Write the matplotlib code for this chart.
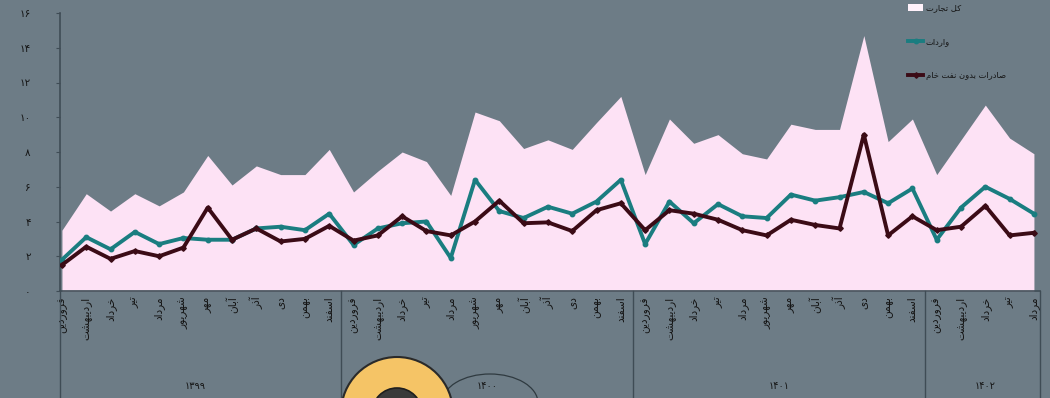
import numpy as np
import matplotlib
matplotlib.use("Agg")
import matplotlib.pyplot as plt
from matplotlib.lines import Line2D
from matplotlib.patches import Patch, Circle, Ellipse
from matplotlib.transforms import blended_transform_factory

plt.rcParams['font.family'] = ['DejaVu Sans']

# ---- data (billion USD, monthly) ----
months = ["فروردین", "اردیبهشت", "خرداد", "تیر", "مرداد", "شهریور",
          "مهر", "آبان", "آذر", "دی", "بهمن", "اسفند"]
years = ["۱۳۹۹", "۱۴۰۰", "۱۴۰۱", "۱۴۰۲"]
months_per_year = [12, 12, 12, 5]

total_trade = [3.5, 5.6, 4.6, 5.6, 4.9, 5.7, 7.8, 6.1, 7.2, 6.7, 6.7, 8.15,
               5.7, 6.9, 8.0, 7.45, 5.5, 10.3, 9.8, 8.2, 8.7, 8.15, 9.7, 11.2,
               6.7, 9.9, 8.5, 9.0, 7.9, 7.6, 9.6, 9.3, 9.3, 14.7, 8.6, 9.9,
               6.7, 8.7, 10.7, 8.8, 7.9]
imports = [1.8, 3.1, 2.4, 3.4, 2.7, 3.05, 2.95, 2.95, 3.6, 3.7, 3.5, 4.45,
           2.65, 3.6, 3.9, 4.0, 1.9, 6.4, 4.6, 4.2, 4.85, 4.45, 5.15, 6.4,
           2.7, 5.15, 3.9, 5.0, 4.3, 4.2, 5.55, 5.2, 5.4, 5.7, 5.05, 5.9,
           2.95, 4.8, 6.0, 5.3, 4.45]
exports_non_oil = [1.5, 2.55, 1.85, 2.3, 2.0, 2.5, 4.8, 2.95, 3.6, 2.85, 3.0, 3.75,
                   2.9, 3.2, 4.3, 3.45, 3.2, 4.0, 5.2, 3.9, 3.95, 3.45, 4.65, 5.05,
                   3.5, 4.65, 4.45, 4.1, 3.5, 3.2, 4.1, 3.8, 3.6, 9.0, 3.2, 4.3,
                   3.5, 3.7, 4.9, 3.2, 3.35]
y_ticks = [0, 2, 4, 6, 8, 10, 12, 14, 16]
y_tick_labels = ["۰", "۲", "۴", "۶", "۸", "۱۰", "۱۲", "۱۴", "۱۶"]
legend_labels = ["کل تجارت", "واردات", "صادرات بدون نفت خام"]

BG = "#6d7c86"
PINK = "#fde2f5"
TEAL = "#1a7d80"
MAROON = "#3b0b16"
INK = "#151515"
RULE = "#3f4c55"

# ---- minimal Persian shaping (contextual forms + visual order) ----
_FORMS = {
    "ا": ("\uFE8D", "\uFE8E", None, None),
    "آ": ("\uFE81", "\uFE82", None, None),
    "ب": ("\uFE8F", "\uFE90", "\uFE91", "\uFE92"),
    "ت": ("\uFE95", "\uFE96", "\uFE97", "\uFE98"),
    "ج": ("\uFE9D", "\uFE9E", "\uFE9F", "\uFEA0"),
    "خ": ("\uFEA5", "\uFEA6", "\uFEA7", "\uFEA8"),
    "د": ("\uFEA9", "\uFEAA", None, None),
    "ذ": ("\uFEAB", "\uFEAC", None, None),
    "ر": ("\uFEAD", "\uFEAE", None, None),
    "س": ("\uFEB1", "\uFEB2", "\uFEB3", "\uFEB4"),
    "ش": ("\uFEB5", "\uFEB6", "\uFEB7", "\uFEB8"),
    "ص": ("\uFEB9", "\uFEBA", "\uFEBB", "\uFEBC"),
    "ف": ("\uFED1", "\uFED2", "\uFED3", "\uFED4"),
    "ک": ("\uFED9", "\uFEDA", "\uFEDB", "\uFEDC"),
    "ك": ("\uFED9", "\uFEDA", "\uFEDB", "\uFEDC"),
    "ل": ("\uFEDD", "\uFEDE", "\uFEDF", "\uFEE0"),
    "م": ("\uFEE1", "\uFEE2", "\uFEE3", "\uFEE4"),
    "ن": ("\uFEE5", "\uFEE6", "\uFEE7", "\uFEE8"),
    "ه": ("\uFEE9", "\uFEEA", "\uFEEB", "\uFEEC"),
    "و": ("\uFEED", "\uFEEE", None, None),
    "ی": ("\uFEEF", "\uFEF0", "\uFEF3", "\uFEF4"),
    "ي": ("\uFEF1", "\uFEF2", "\uFEF3", "\uFEF4"),
}


def fa(text):
    out = []
    for i, c in enumerate(text):
        if c not in _FORMS:
            out.append(c)
            continue
        prev = text[i - 1] if i > 0 else None
        nxt = text[i + 1] if i + 1 < len(text) else None
        iso, fin, ini, med = _FORMS[c]
        jp = prev in _FORMS and _FORMS[prev][2] is not None
        jn = ini is not None and nxt in _FORMS
        if jp and jn:
            out.append(med)
        elif jp:
            out.append(fin)
        elif jn:
            out.append(ini)
        else:
            out.append(iso)
    return "".join(reversed(out))


# ---- figure ----
fig = plt.figure(figsize=(10.5, 3.98), dpi=100, facecolor=BG)
ax = fig.add_axes([60 / 1050, 107 / 398, 980 / 1050, 278 / 398])
ax.set_facecolor(BG)

x = np.arange(len(total_trade))
ax.fill_between(x, total_trade, color=PINK, lw=0, zorder=1)
ax.plot(x, imports, color=TEAL, lw=2.8, marker="o", ms=3.2,
        solid_joinstyle="round", zorder=3)
ax.plot(x, exports_non_oil, color=MAROON, lw=2.8, marker="D", ms=2.8,
        solid_joinstyle="round", zorder=4)

ax.set_xlim(-0.08, 40.25)
ax.set_ylim(0, 16)

for side in ("top", "right"):
    ax.spines[side].set_visible(False)
for side in ("left", "bottom"):
    ax.spines[side].set_color(RULE)
    ax.spines[side].set_linewidth(1.2)

ax.set_yticks(y_ticks)
ax.set_yticklabels(y_tick_labels, fontsize=7.5, color=INK)
ax.tick_params(axis="y", length=3, pad=18, color=RULE)

labels = []
for n in months_per_year:
    labels += [fa(m) for m in months[:n]]
ax.set_xticks(x)
ax.set_xticklabels(labels, rotation=90, fontsize=7.6, color=INK,
                   va="top", ha="center")
ax.tick_params(axis="x", length=0, pad=4)

# year groups: separators and labels below the month labels
trans = blended_transform_factory(ax.transData, ax.transAxes)
bounds = [-0.08]
start = 0
for n in months_per_year:
    start += n
    bounds.append(start - 0.5)
bounds[-1] = 40.25
for b in bounds:
    ax.plot([b, b], [0, -0.40], transform=trans, color=RULE, lw=1.0,
            clip_on=False, zorder=5)
start = 0
for yr, n in zip(years, months_per_year):
    center = (start - 0.5 + start + n - 0.5) / 2
    ax.text(center, -0.34, yr, transform=trans, fontsize=7, color=INK,
            ha="center", va="center")
    start += n

# legend
handles = [
    Patch(facecolor="#fff2fb", edgecolor="none"),
    Line2D([], [], color=TEAL, lw=2.8, marker="o", ms=3.2),
    Line2D([], [], color=MAROON, lw=2.8, marker="D", ms=2.8),
]
leg = fig.legend(handles, [fa(t) for t in legend_labels],
                 loc="upper left", bbox_to_anchor=(905 / 1050, 1.0),
                 frameon=False, fontsize=6, labelspacing=3.0,
                 handlelength=1.8, handleheight=0.8, handletextpad=0.3,
                 borderaxespad=0.0)
for t in leg.get_texts():
    t.set_color(INK)

# ring badge and circled year near the bottom
ring = Circle((397, -15), 56, transform=None, facecolor="#f5c466",
              edgecolor="#2a2a2a", lw=1.5, zorder=10)
hole = Circle((397, -15), 25, transform=None, facecolor="#3a3a3a",
              edgecolor="#1e1e1e", lw=1.2, zorder=11)
fig.add_artist(ring)
fig.add_artist(hole)
loop = Ellipse((490, -5), 96, 58, transform=None, facecolor="none",
               edgecolor="#2f3a40", lw=0.9, zorder=9)
fig.add_artist(loop)

fig.savefig("out.png", dpi=100, facecolor=BG)
